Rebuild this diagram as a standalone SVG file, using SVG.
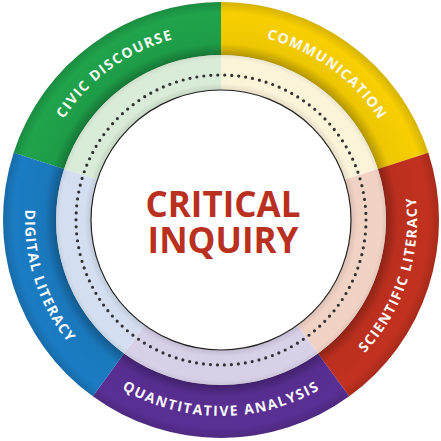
<svg xmlns="http://www.w3.org/2000/svg" width="441" height="441" viewBox="0 0 441 441">
<style>
.lbl{font-family:"Open Sans","Liberation Sans",sans-serif;font-weight:700;font-size:14px;fill:#fff;letter-spacing:1.3px}
.ctr{font-family:"Open Sans","Liberation Sans",sans-serif;font-weight:700;font-size:35px;fill:#b9301f;text-anchor:middle}
</style>
<defs>
<radialGradient id="bandShade" gradientUnits="userSpaceOnUse" cx="221" cy="220" r="218">
<stop offset="0.757" stop-color="#000" stop-opacity="0.28"/>
<stop offset="0.81" stop-color="#000" stop-opacity="0.04"/>
<stop offset="0.95" stop-color="#000" stop-opacity="0"/>
<stop offset="1" stop-color="#000" stop-opacity="0.14"/>
</radialGradient>
<radialGradient id="lightShade" gradientUnits="userSpaceOnUse" cx="221" cy="220" r="165">
<stop offset="0.788" stop-color="#000" stop-opacity="0.10"/>
<stop offset="0.83" stop-color="#000" stop-opacity="0"/>
<stop offset="0.97" stop-color="#000" stop-opacity="0"/>
<stop offset="1" stop-color="#000" stop-opacity="0.06"/>
</radialGradient>
<path id="pCivic" d="M36.84 187.53 A187 187 0 0 1 247.03 34.82"/>
<path id="pComm" d="M194.97 34.82 A187 187 0 0 1 405.16 187.53"/>
<path id="pSci" d="M313.02 393.05 A196 196 0 0 0 397.16 134.08"/>
<path id="pQuant" d="M84.84 360.98 A196 196 0 0 0 357.16 360.98"/>
<path id="pDig" d="M44.84 134.08 A196 196 0 0 0 128.98 393.05"/>
</defs>
<rect width="441" height="441" fill="#fff"/>

<g id="civic-discourse">
<path d="M13.67 152.63 A218 218 0 0 1 221 2 L221 55 A165 165 0 0 0 64.07 169.01 Z" fill="#1fa34b"/>
<path d="M64.07 169.01 A165 165 0 0 1 221 55 L221 90 A130 130 0 0 0 97.36 179.83 Z" fill="#d9ecd7"/>
<text class="lbl"><textPath href="#pCivic" startOffset="50%" text-anchor="middle" textLength="139" lengthAdjust="spacing">CIVIC DISCOURSE</textPath></text>
</g>
<g id="communication">
<path d="M221 2 A218 218 0 0 1 428.33 152.63 L377.93 169.01 A165 165 0 0 0 221 55 Z" fill="#f7cf02"/>
<path d="M221 55 A165 165 0 0 1 377.93 169.01 L344.64 179.83 A130 130 0 0 0 221 90 Z" fill="#fcf4d9"/>
<text class="lbl"><textPath href="#pComm" startOffset="50%" text-anchor="middle" textLength="143" lengthAdjust="spacing">COMMUNICATION</textPath></text>
</g>
<g id="scientific-literacy">
<path d="M428.33 152.63 A218 218 0 0 1 349.14 396.36 L317.99 353.49 A165 165 0 0 0 377.93 169.01 Z" fill="#c2311f"/>
<path d="M377.93 169.01 A165 165 0 0 1 317.99 353.49 L297.41 325.17 A130 130 0 0 0 344.64 179.83 Z" fill="#f1d3c5"/>
<text class="lbl"><textPath href="#pSci" startOffset="50%" text-anchor="middle" textLength="170" lengthAdjust="spacing">SCIENTIFIC LITERACY</textPath></text>
</g>
<g id="quantitative-analysis">
<path d="M349.14 396.36 A218 218 0 0 1 92.86 396.36 L124.01 353.49 A165 165 0 0 0 317.99 353.49 Z" fill="#5a2f95"/>
<path d="M317.99 353.49 A165 165 0 0 1 124.01 353.49 L144.59 325.17 A130 130 0 0 0 297.41 325.17 Z" fill="#d8d0e7"/>
<text class="lbl"><textPath href="#pQuant" startOffset="50%" text-anchor="middle" textLength="208" lengthAdjust="spacing">QUANTITATIVE ANALYSIS</textPath></text>
</g>
<g id="digital-literacy">
<path d="M92.86 396.36 A218 218 0 0 1 13.67 152.63 L64.07 169.01 A165 165 0 0 0 124.01 353.49 Z" fill="#1b7cc3"/>
<path d="M124.01 353.49 A165 165 0 0 1 64.07 169.01 L97.36 179.83 A130 130 0 0 0 144.59 325.17 Z" fill="#d3dff0"/>
<text class="lbl"><textPath href="#pDig" startOffset="50%" text-anchor="middle" textLength="144" lengthAdjust="spacing">DIGITAL LITERACY</textPath></text>
</g>

<g id="shading" pointer-events="none">
<path d="M221 2 A218 218 0 1 1 220.99 2 Z M221 55 A165 165 0 1 0 221.01 55 Z" fill="url(#bandShade)" fill-rule="evenodd"/>
<path d="M221 55 A165 165 0 1 1 220.99 55 Z M221 90 A130 130 0 1 0 221.01 90 Z" fill="url(#lightShade)" fill-rule="evenodd"/>
</g>

<g id="critical-inquiry">
<circle cx="221" cy="220" r="130" fill="#fff" stroke="#222" stroke-width="1.2"/>
<circle cx="221" cy="220" r="145" fill="none" stroke="#333" stroke-width="3.2" stroke-linecap="round" stroke-dasharray="0 7.008"/>
<text class="ctr" x="223" y="217">CRITICAL</text>
<text class="ctr" x="223" y="253">INQUIRY</text>
</g>
</svg>
